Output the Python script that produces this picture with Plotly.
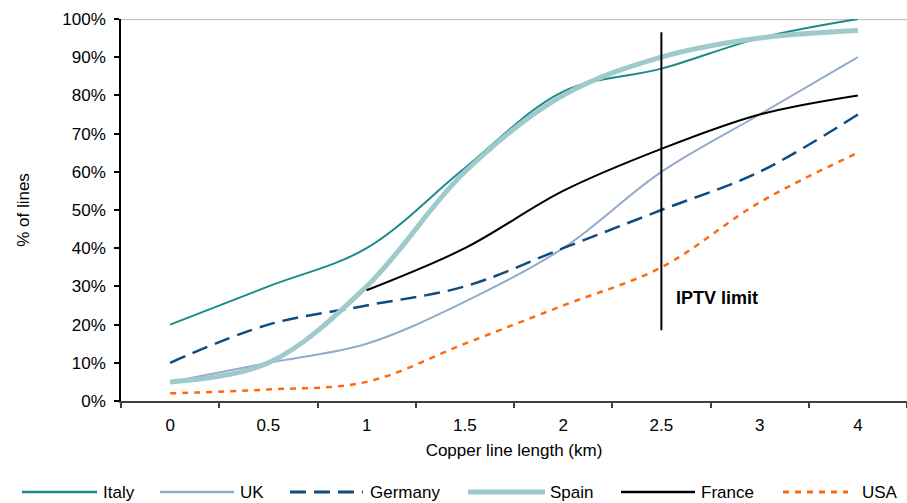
import plotly.graph_objects as go

categories = ["0", "0.5", "1", "1.5", "2", "2.5", "3", "4"]
italy = [20, 30, 40, 61, 81, 87, 95, 100]
uk = [5, 10, 15, 26, 40, 60, 75, 90]
germany = [10, 20, 25, 30, 40, 50, 60, 75]
spain = [5, 10, 30, 60, 80, 90, 95, 97]
france = [None, None, 29, 40, 55, 66, 75, 80]
usa = [2, 3, 5, 15, 25, 35, 52, 65]
y_ticks = [0, 10, 20, 30, 40, 50, 60, 70, 80, 90, 100]
y_labels = [f"{v}%" for v in y_ticks]
iptv_category = "2.5"
iptv_range = [18.5, 96.5]

FONT = "Liberation Sans, Arial, sans-serif"
FS = 17

series = [
    ("Italy", italy, dict(color="#1A8A8A", width=2, dash="solid")),
    ("UK", uk, dict(color="#92ABCB", width=2, dash="solid")),
    ("Germany", germany, dict(color="#0E4C80", width=2.5, dash="16px,8px")),
    ("Spain", spain, dict(color="#9FCACB", width=5, dash="solid")),
    ("France", france, dict(color="#000000", width=2, dash="solid")),
    ("USA", usa, dict(color="#FF6A10", width=2.5, dash="6px,6px")),
]

fig = go.Figure()
for name, vals, ln in series:
    fig.add_trace(go.Scatter(
        x=categories, y=vals, name=name, mode="lines",
        line=dict(color=ln["color"], width=ln["width"], dash=ln["dash"],
                  shape="spline", smoothing=1.0),
        connectgaps=False, showlegend=False,
    ))

L, R, T, B = 121, 0, 19, 102
W, H = 907, 503
pw = W - L - R
ph = H - T - B

def px2paper_x(px):
    return (px - L) / pw

def px2paper_y(py):
    return (H - B - py) / ph

iptv_idx = categories.index(iptv_category)

# IPTV limit line
fig.add_shape(type="line", xref="x", yref="y",
              x0=iptv_idx, x1=iptv_idx, y0=iptv_range[0], y1=iptv_range[1],
              line=dict(color="#000000", width=2))
fig.add_annotation(x=iptv_idx, y=27, xref="x", yref="y", text="<b>IPTV limit</b>",
                   showarrow=False, xanchor="left", xshift=13,
                   font=dict(family=FONT, size=18, color="#000000"))

# top gray line at 100%
fig.add_shape(type="line", xref="paper", yref="y", x0=0, x1=1, y0=100, y1=100,
              line=dict(color="#C4C4C4", width=2.5), layer="below")

# custom legend
legend_pos = [(22, 97, 101), (160, 234, 238), (290, 363, 368),
              (468, 545, 548), (621, 695, 699), (783, 848, 860)]
ly = px2paper_y(492)
for (name, vals, ln), (x0, x1, tx) in zip(series, legend_pos):
    fig.add_shape(type="line", xref="paper", yref="paper",
                  x0=px2paper_x(x0), x1=px2paper_x(x1), y0=ly, y1=ly,
                  line=dict(color=ln["color"], width=min(ln["width"] + 0.5, 5),
                            dash=ln["dash"]))
    fig.add_annotation(x=px2paper_x(tx), y=ly, xref="paper", yref="paper",
                       text=name, showarrow=False, xanchor="left", yanchor="middle",
                       font=dict(family=FONT, size=FS, color="#000000"))

fig.update_layout(
    width=W, height=H,
    margin=dict(l=L, r=R, t=T, b=B),
    paper_bgcolor="white", plot_bgcolor="white",
    font=dict(family=FONT, size=FS, color="#000000"),
    showlegend=False,
    xaxis=dict(
        type="category", categoryorder="array", categoryarray=categories,
        range=[-0.5, 7.5], tickson="boundaries",
        showline=True, linecolor="#404040", linewidth=1.5,
        ticks="outside", ticklen=5, tickcolor="#404040", tickwidth=1.5,
        ticklabelstandoff=8,
        showgrid=False, zeroline=False,
        title=dict(text="Copper line length (km)", font=dict(size=FS), standoff=10),
        tickfont=dict(size=FS),
    ),
    yaxis=dict(
        range=[0, 100], tickvals=y_ticks, ticktext=y_labels,
        showline=True, linecolor="#000000", linewidth=1.5,
        ticks="outside", ticklen=5, tickcolor="#000000", tickwidth=1.5,
        ticklabelstandoff=5,
        showgrid=False, zeroline=False,
        title=dict(text="% of lines", font=dict(size=FS), standoff=28),
        tickfont=dict(size=FS),
    ),
)

fig.write_html("out.html")
